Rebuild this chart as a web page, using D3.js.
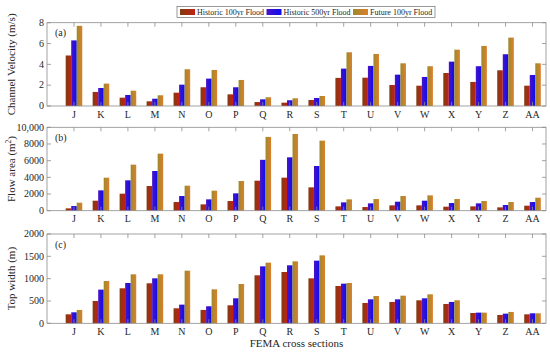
<!DOCTYPE html>
<html><head><meta charset="utf-8">
<script src="https://cdn.jsdelivr.net/npm/d3@7"></script>
<style>body{margin:0;background:#fff}text{font-family:"Liberation Serif","Times New Roman",serif;fill:#262626}</style>
</head><body>
<svg id="c" width="550" height="354"></svg>
<script>
const categories = ["J","K","L","M","N","O","P","Q","R","S","T","U","V","W","X","Y","Z","AA"];
const seriesNames = ["Historic 100yr Flood","Historic 500yr Flood","Future 100yr Flood"];
// (a) Channel velocity (m/s)
const velHist100 = [4.85,1.35,0.8,0.45,1.28,1.8,1.12,0.38,0.32,0.58,2.7,2.72,2.02,1.95,3.17,2.31,3.43,1.95];
const velHist500 = [6.3,1.73,1.06,0.7,2.05,2.63,1.8,0.64,0.55,0.77,3.59,3.85,3.01,2.79,4.26,3.82,4.97,2.98];
const velFut100  = [7.7,2.15,1.47,1.03,3.53,3.46,2.5,0.84,0.74,0.96,5.16,5.0,4.1,3.82,5.41,5.77,6.57,4.1];
// (b) Flow area (m2)
const areaHist100 = [280,1200,2040,2960,1040,760,1160,3600,3960,2800,520,440,640,640,480,520,400,600];
const areaHist500 = [560,2440,3640,4760,1760,1360,2080,6100,6400,5360,1000,880,1080,1200,920,880,680,1040];
const areaFut100  = [960,3960,5520,6840,3000,2400,3560,8850,9200,8400,1360,1400,1760,1840,1400,1160,1040,1560];
// (c) Top width (m)
const widthHist100 = [201,500,784,896,336,299,403,1075,1149,1007,836,455,478,515,433,231,187,201];
const widthHist500 = [246,754,903,1007,418,381,560,1276,1299,1403,888,537,537,560,478,239,216,224];
const widthFut100  = [299,948,1097,1097,1179,761,881,1358,1388,1522,903,612,619,649,515,239,254,224];
// tick labels
const velTicks = [0,2,4,6,8];
const areaTicks = [0,2000,4000,6000,8000,10000];
const areaTickLabels = ["0","2000","4000","6000","8000","10,000"];
const widthTicks = [0,500,1000,1500,2000];

const svg = d3.select("#c");
const defs = svg.append("defs");
const grads = [["#7e3d10","#c41f14"],["#4a14c4","#0c0cf0"],["#9c8a2c","#de7f2c"]];
grads.forEach((g,i)=>{
  const lg = defs.append("linearGradient").attr("id","g"+i).attr("x1",0).attr("x2",1).attr("y1",0).attr("y2",0);
  lg.append("stop").attr("offset","0%").attr("stop-color",g[0]);
  lg.append("stop").attr("offset","100%").attr("stop-color",g[1]);
});

const L = 47, R = 546;
const x = d3.scaleLinear().domain([0,18.5]).range([L,R]);
const step = x(1)-x(0);
const bw = step*0.205;
const frameColor = "#8c8c8c";

const panels = [
  {label:"(a)", ylabel:"Channel Velocity (m/s)", data:[velHist100,velHist500,velFut100], dom:[0,8], ticks:velTicks, tickLabels:velTicks.map(String), top:22.7, bottom:106},
  {label:"(b)", ylabel:null, data:[areaHist100,areaHist500,areaFut100], dom:[0,10000], ticks:areaTicks, tickLabels:areaTickLabels, top:127.3, bottom:210.7},
  {label:"(c)", ylabel:"Top width (m)", data:[widthHist100,widthHist500,widthFut100], dom:[0,2000], ticks:widthTicks, tickLabels:widthTicks.map(String), top:234, bottom:323.3}
];

panels.forEach((p,pi)=>{
  const y = d3.scaleLinear().domain(p.dom).range([p.bottom,p.top]);
  const g = svg.append("g");
  // bars
  p.data.forEach((arr,si)=>{
    g.selectAll(null).data(arr).enter().append("rect")
      .attr("x",(d,i)=>x(i+1)+(si-1.5)*bw)
      .attr("width",bw)
      .attr("y",d=>y(d))
      .attr("height",d=>y(0)-y(d))
      .attr("fill","url(#g"+si+")");
  });
  // frame
  g.append("rect").attr("x",L).attr("y",p.top).attr("width",R-L).attr("height",p.bottom-p.top)
    .attr("fill","none").attr("stroke",frameColor).attr("stroke-width",0.8);
  // y ticks left/right inward
  p.ticks.forEach((t,i)=>{
    g.append("line").attr("x1",L).attr("x2",L+4).attr("y1",y(t)).attr("y2",y(t)).attr("stroke",frameColor).attr("stroke-width",0.8);
    g.append("line").attr("x1",R).attr("x2",R-4).attr("y1",y(t)).attr("y2",y(t)).attr("stroke",frameColor).attr("stroke-width",0.8);
    g.append("text").attr("x",L-3).attr("y",y(t)).attr("dy","0.33em").attr("text-anchor","end")
      .attr("font-size",10).text(p.tickLabels[i]);
  });
  // x ticks top/bottom inward and labels
  categories.forEach((c,i)=>{
    const cx = x(i+1);
    g.append("line").attr("x1",cx).attr("x2",cx).attr("y1",p.top).attr("y2",p.top+4).attr("stroke",frameColor).attr("stroke-width",0.8);
    g.append("line").attr("x1",cx).attr("x2",cx).attr("y1",p.bottom).attr("y2",p.bottom-4).attr("stroke",frameColor).attr("stroke-width",0.8);
    g.append("text").attr("x",cx).attr("y",p.bottom+11.5).attr("text-anchor","middle").attr("font-size",10).text(c);
  });
  g.append("text").attr("x",L+8).attr("y",p.top+13.5).attr("font-size",10).text(p.label);
  // y label
  const cy = (p.top+p.bottom)/2;
  const yl = g.append("text").attr("transform",`translate(15,${cy}) rotate(-90)`).attr("text-anchor","middle").attr("font-size",11);
  if(p.ylabel) yl.text(p.ylabel);
  else { yl.append("tspan").text("Flow area (m"); yl.append("tspan").attr("font-size",7.5).attr("dy",-4).text("2"); yl.append("tspan").attr("dy",4).text(")"); }
});

svg.append("text").attr("x",(L+R)/2).attr("y",347).attr("text-anchor","middle").attr("font-size",11).text("FEMA cross sections");

// legend
const lg = svg.append("g");
lg.append("rect").attr("x",177).attr("y",6.5).attr("width",258).attr("height",11).attr("fill","#fff").attr("stroke","#555").attr("stroke-width",0.6);
const legX = [180,266.5,353];
seriesNames.forEach((n,i)=>{
  lg.append("rect").attr("x",legX[i]).attr("y",9).attr("width",15).attr("height",6).attr("fill","url(#g"+i+")");
  lg.append("text").attr("x",legX[i]+17).attr("y",15).attr("font-size",8).text(n);
});
</script>
</body></html>
